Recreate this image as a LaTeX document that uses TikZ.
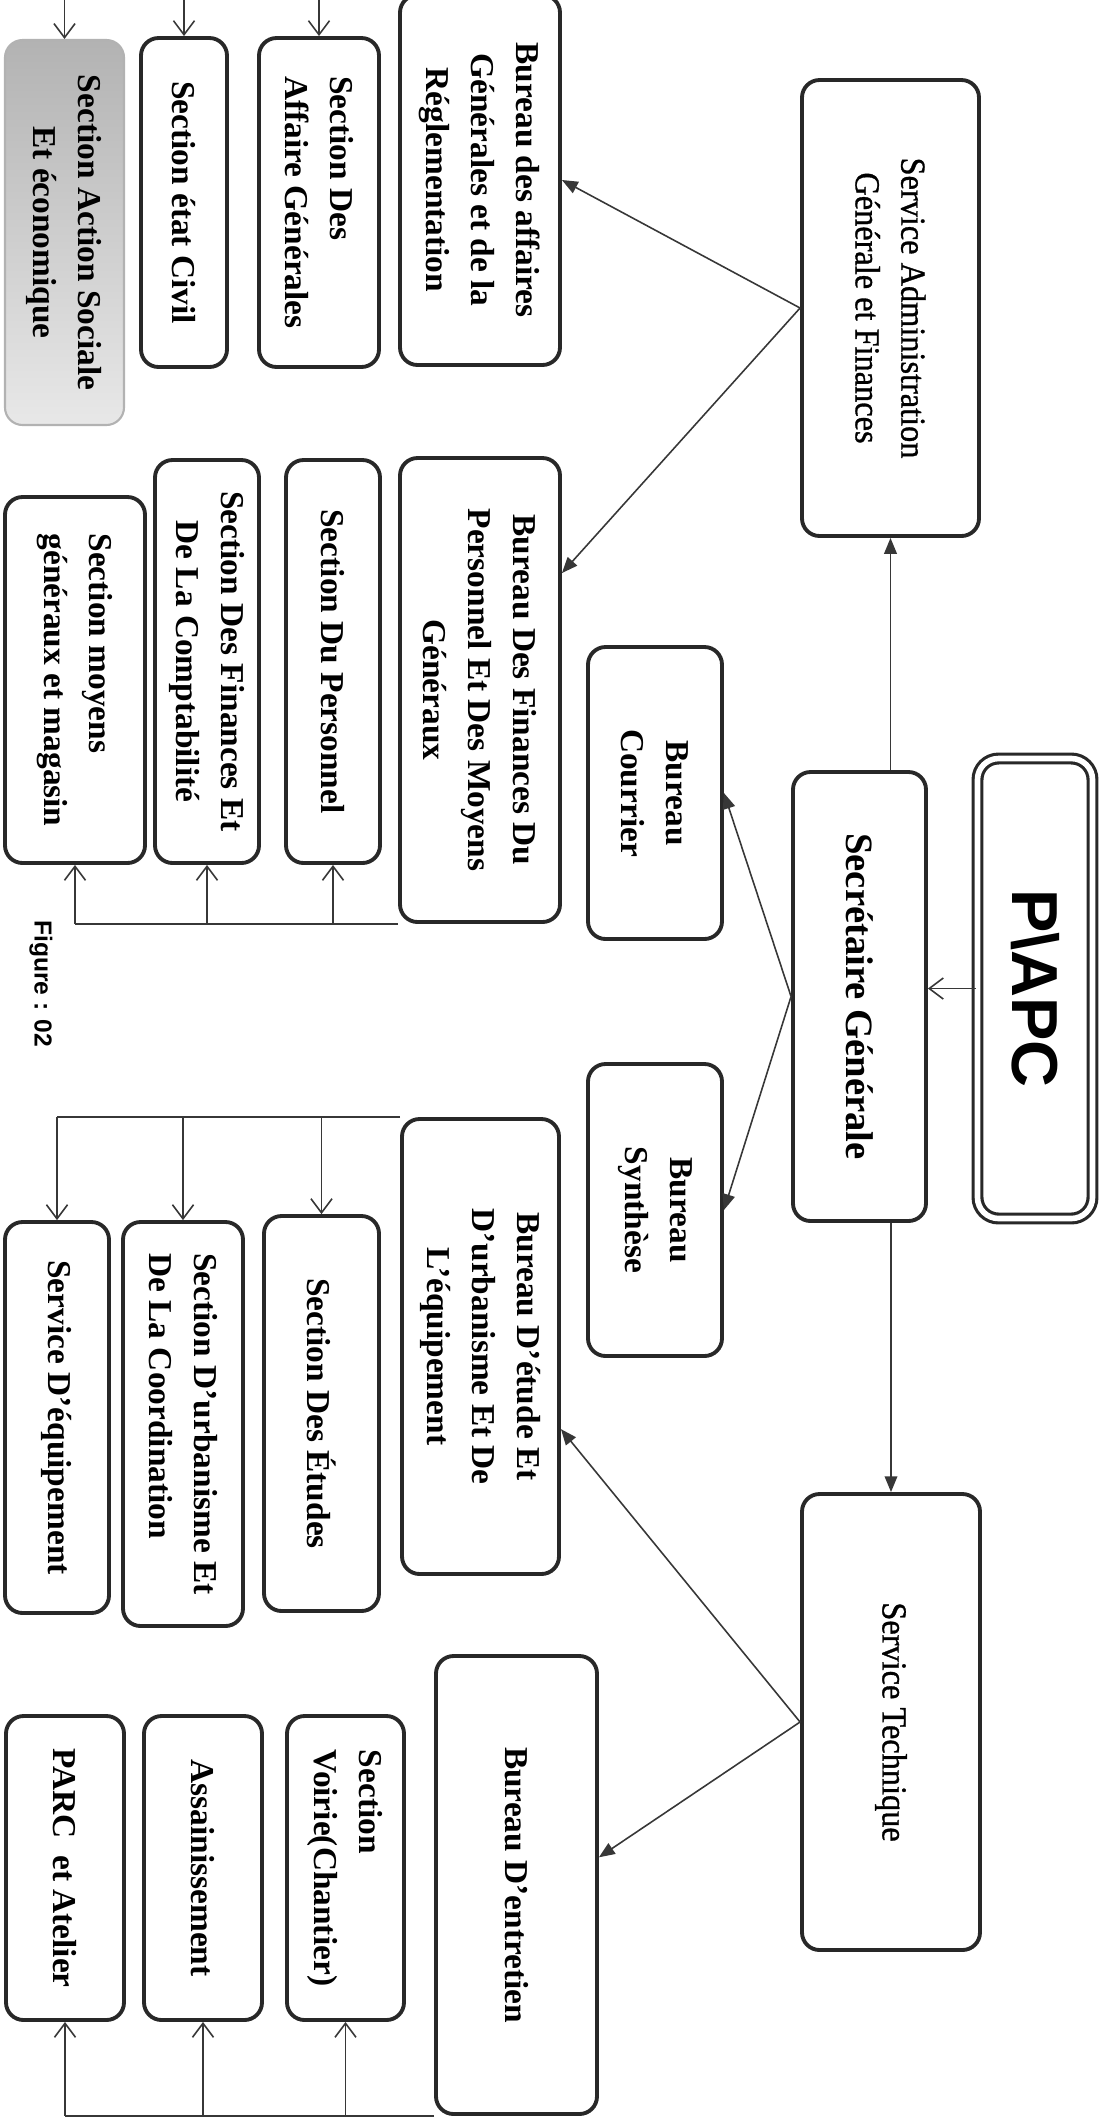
\documentclass[tikz,border=0pt]{standalone}
\usepackage{fontspec}
\setmainfont{Liberation Serif}
\setsansfont{Liberation Sans}
\newfontfamily\servicefont[FakeBold=0.9,FakeStretch=0.92]{Liberation Serif}
\usepackage{xcolor}
\usepackage{tikz}
\usetikzlibrary{arrows.meta,calc}
\definecolor{boxline}{RGB}{40,40,40}
\definecolor{wiregray}{RGB}{55,55,55}

\begin{document}
\begin{tikzpicture}[
    rotate=-90, transform shape,
    unit/.style={draw=boxline, line width=1.1pt, rounded corners=5pt, fill=white, align=center, inner sep=2pt, font=\bfseries\fontsize{9.5}{12.8}\selectfont},
    service/.style={unit, font=\servicefont\fontsize{10}{13}\selectfont},
    orgline/.style={draw=wiregray, line width=0.45pt},
    orgarrow/.style={orgline, -{Triangle[length=4.5pt, width=3.6pt]}},
    orgbarb/.style={orgline, -{Straight Barb[length=4pt, width=6pt]}},
]
    \useasboundingbox (0,0) rectangle (21.18,11.02);
    \clip (0,0) rectangle (21.18,11.02);

    % Head
    \node[unit, line width=0.9pt, double=white, double distance=1.6pt, rounded corners=6pt, minimum width=4.6cm, minimum height=1.15cm, font=\sffamily\bfseries\fontsize{18.5}{20}\selectfont] (papc) at (9.885,10.35) {P\textbackslash APC};
    \node[unit, minimum width=4.49cm, minimum height=1.33cm, font=\bfseries\fontsize{11}{13}\selectfont] (sg) at (9.965,8.595) {Secrétaire Générale};

    % Services
    \node[service, minimum width=4.56cm, minimum height=1.77cm] (sag) at (3.08,8.905) {Service Administration\\Générale et Finances};
    \node[service, minimum width=4.56cm, minimum height=1.78cm] (st) at (17.22,8.91) {Service Technique};

    % Bureaux of the secretary
    \node[unit, minimum width=2.92cm, minimum height=1.34cm] (courrier) at (7.93,6.55) {Bureau\\Courrier};
    \node[unit, minimum width=2.92cm, minimum height=1.34cm] (synth) at (12.10,6.55) {Bureau\\Synthèse};

    % Bureaux
    \node[unit, minimum width=3.70cm, minimum height=1.60cm] (bag) at (1.80,4.80) {Bureau des affaires\\Générales et de la\\Réglementation};
    \node[unit, minimum width=4.64cm, minimum height=1.60cm] (bfp) at (6.90,4.80) {Bureau Des Finances Du\\Personnel Et Des Moyens\\Généraux};
    \node[unit, minimum width=4.55cm, minimum height=1.57cm] (beu) at (13.465,4.805) {Bureau D’étude Et\\D’urbanisme Et De\\L’équipement};
    \node[unit, minimum width=4.58cm, minimum height=1.61cm] (ben) at (18.85,5.165) {Bureau D’entretien};

    % Sections
    \node[unit, draw=gray!60, line width=0.6pt, top color=gray!60, bottom color=gray!18, minimum width=3.85cm, minimum height=1.19cm] (sase) at (2.325,0.645) {Section Action Sociale\\Et économique};
    \node[unit, minimum width=3.29cm, minimum height=0.86cm] (sec) at (2.025,1.84) {Section état Civil};
    \node[unit, align=left, minimum width=3.29cm, minimum height=1.20cm] (sdag) at (2.025,3.19) {Section Des\\Affaire Générales};
    \node[unit, minimum width=4.03cm, minimum height=0.94cm] (sdp) at (6.615,3.33) {Section Du Personnel};
    \node[unit, minimum width=4.03cm, minimum height=1.04cm] (sdf) at (6.615,2.07) {Section Des Finances Et\\De La Comptabilité};
    \node[unit, align=left, minimum width=3.66cm, minimum height=1.40cm] (smg) at (6.80,0.75) {Section moyens\\généraux et magasin};
    \node[unit, minimum width=3.95cm, minimum height=1.15cm] (sde) at (14.135,3.215) {Section Des Études};
    \node[unit, align=left, minimum width=4.04cm, minimum height=1.20cm] (sdu) at (14.24,1.83) {Section D’urbanisme Et\\De La Coordination};
    \node[unit, minimum width=3.91cm, minimum height=1.04cm] (sdq) at (14.175,0.57) {Service D’équipement};
    \node[unit, align=left, minimum width=3.04cm, minimum height=1.17cm] (svc) at (18.68,3.455) {Section\\Voirie(Chantier)};
    \node[unit, minimum width=3.04cm, minimum height=1.18cm] (sas) at (18.68,2.03) {Assainissement};
    \node[unit, minimum width=3.04cm, minimum height=1.18cm] (spa) at (18.68,0.65) {PARC\ \ et Atelier};

    % Caption
    \node[font=\sffamily\bfseries\fontsize{7}{8}\selectfont] (fig) at (9.835,0.41) {Figure : 02};

    % Arrows from the head
    \draw[orgbarb] (papc.south) -- (papc.south |- sg.north);
    \draw[orgarrow] (sg.west |- sag) -- (sag.east);
    \draw[orgarrow] (sg.east |- st) -- (st.west);
    \draw[orgarrow] (sg.south) -- (courrier.north);
    \draw[orgarrow] (sg.south) -- (synth.north);

    % Arrows from the services
    \draw[orgarrow] (sag.south) -- (bag.north);
    \draw[orgarrow] (sag.south) -- ($(bfp.north west)!.25!(bfp.north east)$);
    \draw[orgarrow] (st.south) -- ($(beu.north west)!.68!(beu.north east)$);
    \draw[orgarrow] (st.south) -- ($(ben.north west)!.44!(ben.north east)$);

    % Brackets to the sections
    \draw[orgline] (bag.south west) -- (bag.west |- sase);
    \foreach \s in {sase,sec,sdag} \draw[orgbarb] (bag.west |- \s) -- (\s.west);
    \draw[orgline] (bfp.south east) -- (bfp.east |- smg);
    \foreach \s in {smg,sdf,sdp} \draw[orgbarb] (bfp.east |- \s) -- (\s.east);
    \draw[orgline] (beu.south west) -- (beu.west |- sdq);
    \foreach \s in {sdq,sdu,sde} \draw[orgbarb] (beu.west |- \s) -- (\s.west);
    \draw[orgline] (ben.south east) -- (ben.east |- spa);
    \foreach \s in {spa,sas,svc} \draw[orgbarb] (ben.east |- \s) -- (\s.east);
\end{tikzpicture}
\end{document}
